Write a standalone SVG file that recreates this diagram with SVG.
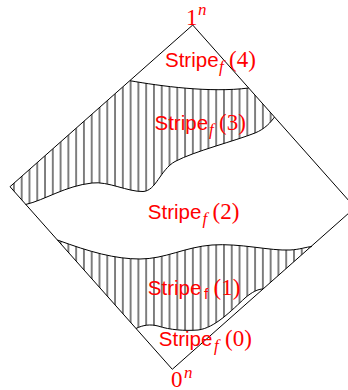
<svg xmlns="http://www.w3.org/2000/svg" width="348" height="390" viewBox="0 0 348 390">
<style>
.edge{fill:none;stroke:#000;stroke-width:1}
.curve{fill:none;stroke:#000;stroke-width:1}
.hatch{fill:url(#vlines);stroke:none}
.sf{font-family:"Liberation Sans",Arial,sans-serif;font-size:20.5px;fill:#f00}
.rm{font-family:"Liberation Serif","Times New Roman",serif;font-size:23px;fill:#f00}
.it{font-family:"Liberation Serif","Times New Roman",serif;font-style:italic;font-size:17px;fill:#f00}
.sfs{font-family:"Liberation Sans",Arial,sans-serif;font-size:15px;fill:#f00}
</style>
<defs>
<pattern id="vlines" patternUnits="userSpaceOnUse" x="17.8" y="0" width="7.78" height="10">
<line x1="3.89" y1="-1" x2="3.89" y2="11" stroke="#000" stroke-width="1"/>
</pattern>
</defs>
<g id="hatching">
<path class="hatch" d="M130,80.7 C160,86 210,93 248.7,88 L274.5,117 C271,122 265,129 255,133 C235,141 195,151 175,161.5 C160,170 156,191 143,191.5 C128,192 108,181 92,183 C65,186 45,200 25.6,204.5 L10,186.7 Z"/>
<path class="hatch" d="M57.4,240 C90,252 115,259 140,259 C165,259 185,247 212,245 C240,243 270,251 290,250 C300,249.5 306,247 311,246.6 L263,289 C258,289 252,292 245,298 C232,310 215,328 198,330 C185,331 170,330 158,326 C150,324 143,325 136,328.5 Z"/>
</g>
<g id="diamond">
<polygon class="edge" points="192.7,25 355,207.6 172.3,369.3 10,186.7"/>
</g>
<g id="curves">
<path id="curveA" class="curve" d="M130,80.7 C160,86 210,93 248.7,88"/>
<path id="curveB" class="curve" d="M25.6,204.5 C45,200 65,186 92,183 C108,181 128,192 143,191.5 C156,191 160,170 175,161.5 C195,151 235,141 255,133 C265,129 271,122 274.5,117"/>
<path id="curveC" class="curve" d="M57.4,240 C90,252 115,259 140,259 C165,259 185,247 212,245 C240,243 270,251 290,250 C300,249.5 306,247 312,246.5"/>
<path id="curveD" class="curve" d="M136,328.5 C143,325 150,324 158,326 C170,330 185,331 198,330 C215,328 232,310 245,298 C252,292 258,289 263,289"/>
</g>
<g id="label-top">
<text class="rm" x="186" y="25">1</text>
<text class="it" x="198" y="15">n</text>
</g>
<g id="label-bottom">
<text class="rm" x="171" y="386.5">0</text>
<text class="it" x="184" y="377.5">n</text>
</g>
<g id="stripe4">
<text class="sf" x="165" y="66.7">Stripe</text>
<text class="it" x="219" y="71.5">f</text>
<text class="rm" x="229" y="66.7">(4)</text>
</g>
<g id="stripe3">
<text class="sf" x="154.5" y="130">Stripe</text>
<text class="it" x="209" y="134.8">f</text>
<text class="rm" x="219" y="130">(3)</text>
</g>
<g id="stripe2">
<text class="sf" x="147.8" y="219.3">Stripe</text>
<text class="it" x="202.5" y="224">f</text>
<text class="rm" x="212.5" y="219.3">(2)</text>
</g>
<g id="stripe1">
<text class="sf" x="147.8" y="295">Stripe</text>
<text class="sfs" x="204" y="299">f</text>
<text class="rm" x="213.5" y="295">(1)</text>
</g>
<g id="stripe0">
<text class="sf" x="158.8" y="346">Stripe</text>
<text class="it" x="214" y="350.8">f</text>
<text class="rm" x="225" y="346">(0)</text>
</g>
</svg>
